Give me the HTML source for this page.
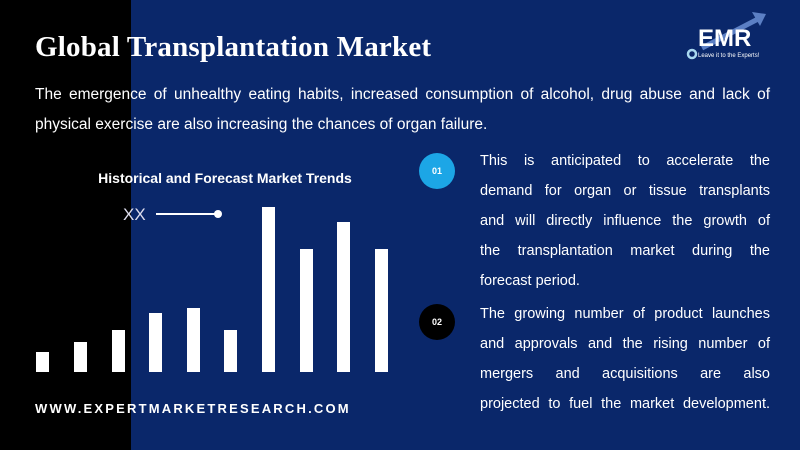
<!DOCTYPE html>
<html><head><meta charset="utf-8"><style>
*{margin:0;padding:0;box-sizing:border-box}
body{width:800px;height:450px;overflow:hidden;position:relative;background:#0a276a;font-family:"Liberation Sans",sans-serif;color:#fff}
.blk{position:absolute;left:0;top:0;width:131px;height:450px;background:#000}
.abs{position:absolute}
h1{position:absolute;left:35px;top:31px;font-family:"Liberation Serif",serif;font-weight:bold;font-size:29px;letter-spacing:0.2px}
.p{left:35px;width:735px;font-size:15.5px;line-height:30px}
.j{text-align:justify;text-align-last:justify;white-space:nowrap}
.ct{left:85px;top:170px;width:280px;text-align:center;font-weight:bold;font-size:14px}
.bar{position:absolute;background:#fff;width:13px;bottom:78px}
.rt{left:480px;width:290px;font-size:14.5px;line-height:30px}
.rt div{height:30px}
.c{position:absolute;width:36px;height:36px;border-radius:50%;font-size:9px;font-weight:bold;text-align:center;line-height:36px}
.web{left:35px;top:401px;font-weight:bold;font-size:13px;letter-spacing:2.2px}
</style></head><body>
<div class="blk"></div>
<h1>Global Transplantation Market</h1>
<div class="abs p j" style="top:80px">The emergence of unhealthy eating habits, increased consumption of alcohol, drug abuse and lack of</div>
<div class="abs p" style="top:110px">physical exercise are also increasing the chances of organ failure.</div>
<div class="abs ct">Historical and Forecast Market Trends</div>
<div class="abs" style="left:123px;top:205px;font-size:17px;color:#dde;font-weight:300">XX</div>
<div class="abs" style="left:156px;top:213px;width:62px;height:1.5px;background:#fff"></div>
<div class="abs" style="left:214px;top:210px;width:8px;height:8px;border-radius:50%;background:#fff"></div>
<div class="bar" style="left:36px;height:20px"></div>
<div class="bar" style="left:74px;height:30px"></div>
<div class="bar" style="left:112px;height:42px"></div>
<div class="bar" style="left:149px;height:59px"></div>
<div class="bar" style="left:187px;height:64px"></div>
<div class="bar" style="left:224px;height:42px"></div>
<div class="bar" style="left:262px;height:165px"></div>
<div class="bar" style="left:300px;height:123px"></div>
<div class="bar" style="left:337px;height:150px"></div>
<div class="bar" style="left:375px;height:123px"></div>
<div class="c" style="left:419px;top:153px;background:#1ca6e6">01</div>
<div class="c" style="left:419px;top:304px;background:#000">02</div>
<div class="abs rt" style="top:146px">
<div class="j">This is anticipated to accelerate the</div>
<div class="j">demand for organ or tissue transplants</div>
<div class="j">and will directly influence the growth of</div>
<div class="j">the transplantation market during the</div>
<div>forecast period.</div>
</div>
<div class="abs rt" style="top:299px">
<div class="j">The growing number of product launches</div>
<div class="j">and approvals and the rising number of</div>
<div class="j">mergers and acquisitions are also</div>
<div class="j">projected to fuel the market development.</div>
</div>
<div class="abs web">WWW.EXPERTMARKETRESEARCH.COM</div>
<svg class="abs" style="left:680px;top:10px" width="90" height="50">
<line x1="22" y1="38" x2="80" y2="8" stroke="#5b7fc4" stroke-width="5"/>
<polygon points="72,2 86,4 80,16" fill="#5b7fc4"/>
<text x="18" y="36" font-family="Liberation Sans" font-weight="bold" font-size="24" fill="#fff">EMR</text>
<circle cx="12" cy="44" r="4" fill="none" stroke="#a8d8f0" stroke-width="2.5"/>
<text x="18" y="47" font-family="Liberation Sans" font-size="6" fill="#fff">Leave it to the Experts!</text>
</svg>
</body></html>
